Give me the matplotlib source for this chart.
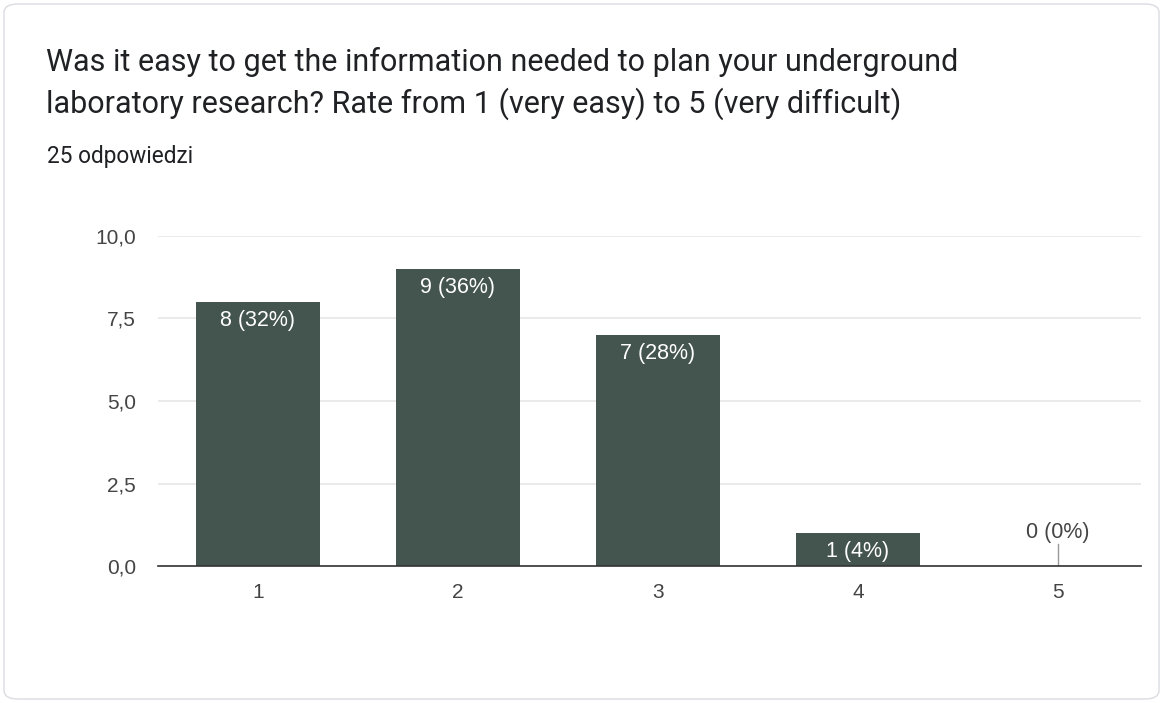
import matplotlib.pyplot as plt
from matplotlib.patches import FancyBboxPatch

# survey answers
categories = ["1", "2", "3", "4", "5"]
counts = [8, 9, 7, 1, 0]
percents = [32, 36, 28, 4, 0]
y_ticks = [0, 2.5, 5, 7.5, 10]
y_tick_labels = ["0,0", "2,5", "5,0", "7,5", "10,0"]

title_lines = ["Was it easy to get the information needed to plan your underground",
               "laboratory research? Rate from 1 (very easy) to 5 (very difficult)"]
subtitle = "25 odpowiedzi"

plt.rcParams['font.family'] = ['Roboto', 'DejaVu Sans']
chart_font = ['Liberation Sans', 'DejaVu Sans']

bar_color = '#44544f'
text_color = '#202124'
tick_color = '#444444'

fig = plt.figure(figsize=(11.63, 7.03), dpi=100)
fig.patch.set_facecolor('white')

# card border, behind everything
card = FancyBboxPatch((4 / 1163, 4 / 703), 1155 / 1163, 695 / 703,
                      boxstyle="round,pad=0,rounding_size=0.012",
                      transform=fig.transFigure, facecolor='white',
                      edgecolor='#dadce0', linewidth=1.0, zorder=-10)
fig.patches.append(card)

fig.text(46 / 1163, 1 - 62 / 703, title_lines[0], fontsize=22,
         color=text_color, va='center', ha='left')
fig.text(46 / 1163, 1 - 104 / 703, title_lines[1], fontsize=22,
         color=text_color, va='center', ha='left')
fig.text(47 / 1163, 1 - 157 / 703, subtitle, fontsize=16.3, color=text_color,
         va='center', ha='left')

ax = fig.add_axes([158 / 1163, 137 / 703, 983 / 1163, 330 / 703])
ax.patch.set_alpha(0)
x = list(range(1, len(categories) + 1))
ax.bar(x, counts, width=0.62, color=bar_color, zorder=3)

for xi, c, p in zip(x, counts, percents):
    label = f"{c} ({p}%)"
    if c >= 1:
        ax.annotate(label, (xi, c), xytext=(0, -13), textcoords='offset points',
                    ha='center', va='center', color='white', fontsize=15.5,
                    family=chart_font, zorder=4)
    else:
        ax.annotate(label, (xi, c), xytext=(0, 24), textcoords='offset points',
                    ha='center', va='center', color=tick_color, fontsize=15.5,
                    family=chart_font, zorder=4)
        ax.plot([xi, xi], [0, 0.68], color='#999999', linewidth=1, zorder=4)

ax.set_xlim(0.5, 5.415)
ax.set_ylim(0, 10)
ax.set_xticks(x)
ax.set_xticklabels(categories, family=chart_font)
ax.set_yticks(y_ticks)
ax.set_yticklabels(y_tick_labels, family=chart_font)
ax.tick_params(axis='both', length=0, labelsize=15, colors=tick_color)
ax.tick_params(axis='x', pad=12.5)
ax.tick_params(axis='y', pad=16)
ax.grid(axis='y', color='#e6e6e6', linewidth=1.2, zorder=0)
for side in ['top', 'right', 'left']:
    ax.spines[side].set_visible(False)
ax.spines['bottom'].set_color('#333333')
ax.spines['bottom'].set_linewidth(1.2)
ax.spines['bottom'].set_zorder(5)

fig.savefig('out.png', dpi=100)
